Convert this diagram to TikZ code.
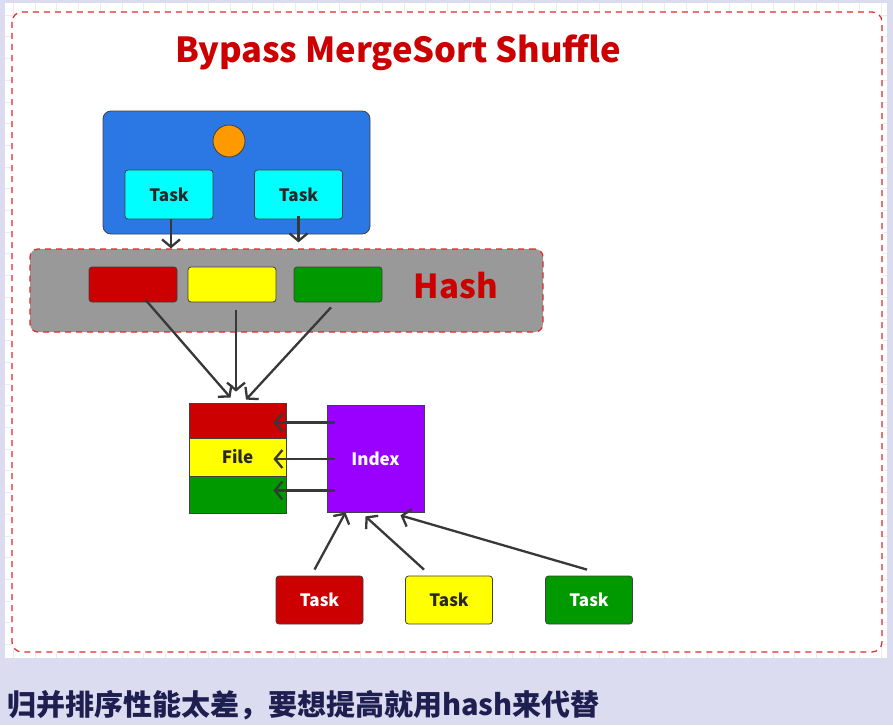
\documentclass[tikz,border=0pt]{standalone}
\usepackage{fontspec}
\setmainfont{Noto Sans CJK SC}
\usetikzlibrary{arrows.meta, calc}

\definecolor{pagebg}{RGB}{220,220,240}
\definecolor{gridgray}{RGB}{236,236,240}
\definecolor{dashred}{RGB}{224,40,40}
\definecolor{titlered}{RGB}{204,0,0}
\definecolor{execblue}{RGB}{43,120,228}
\definecolor{dotorange}{RGB}{255,153,0}
\definecolor{taskcyan}{RGB}{0,255,255}
\definecolor{hashgray}{RGB}{153,153,153}
\definecolor{slotred}{RGB}{204,0,0}
\definecolor{slotyellow}{RGB}{255,255,0}
\definecolor{slotgreen}{RGB}{0,153,0}
\definecolor{indexpurple}{RGB}{153,0,255}
\definecolor{edgegray}{RGB}{64,64,64}
\definecolor{arrowgray}{RGB}{56,56,56}
\definecolor{textdark}{RGB}{40,40,40}
\definecolor{notenavy}{RGB}{30,30,80}

\begin{document}
\begin{tikzpicture}[x=1pt, y=-1pt, >={Straight Barb[length=7.5pt,width=18pt]}]

    % Define styles
    \tikzset{
        frame/.style={draw=dashred, line width=1.2pt, dash pattern=on 6pt off 5pt, rounded corners=10pt},
        box/.style={draw=edgegray, line width=0.8pt, rounded corners=3pt, inner sep=0pt, font=\fontsize{17}{20}\selectfont\bfseries},
        taskbox/.style={box, minimum width=88pt, minimum height=49pt},
        slot/.style={box, minimum width=88pt, minimum height=35pt},
        layer/.style={draw=edgegray, line width=0.8pt, minimum width=97pt, minimum height=36pt, inner sep=0pt, font=\fontsize{17}{20}\selectfont\bfseries},
        link/.style={->, draw=arrowgray, line width=2.3pt},
        bigtext/.style={font=\fontsize{34.5}{38}\selectfont\bfseries, text=titlered},
    }

    % 1. Page, grid and frame
    \fill[pagebg] (0,0) rectangle (893,725);
    \fill[white] (5,3) rectangle (887,658);
    \foreach \gx in {13.3,35,...,887}
        \draw[gridgray, line width=0.6pt] (\gx,3) -- (\gx,658);
    \foreach \gy in {15,36.7,...,658}
        \draw[gridgray, line width=0.6pt] (5,\gy) -- (887,\gy);
    \filldraw[frame, fill=white] (12,12) rectangle (882,652);

    % 2. Title
    \node[bigtext] (title) at (398,53) {Bypass MergeSort Shuffle};

    % 3. Executor with its tasks
    \node[box, fill=execblue, rounded corners=8pt, minimum width=267pt, minimum height=123pt] (exec) at (236.5,172.5) {};
    \node[circle, draw=edgegray, line width=0.8pt, fill=dotorange, minimum size=32pt, inner sep=0pt] (core) at (229,141) {};
    \node[taskbox, fill=taskcyan, text=textdark] (mt1) at (169,194.5) {Task};
    \node[taskbox, fill=taskcyan, text=textdark] (mt2) at (298.5,194.5) {Task};

    % 4. Hash buckets
    \node[box, draw=dashred, dash pattern=on 6pt off 5pt, line width=1.2pt, fill=hashgray, rounded corners=8pt, minimum width=513pt, minimum height=83pt] (hashbar) at (286.5,290.5) {};
    \node[slot, fill=slotred] (hr) at (133,284.5) {};
    \node[slot, fill=slotyellow] (hy) at (232,284.5) {};
    \node[slot, fill=slotgreen] (hg) at (338,284.5) {};
    \node[bigtext, font=\fontsize{33}{36}\selectfont\bfseries] (hashlabel) at (456,286) {Hash};

    \draw[link] ([xshift=2pt]mt1.south) -- ([xshift=2pt]mt1.south |- hashbar.north);
    \draw[link] ([yshift=3pt]mt2.south) -- ([yshift=6pt]mt2.south |- hashbar.north);

    % 5. File and Index
    \node[layer, fill=slotred, minimum height=35pt] (fr) at (237.5,420.5) {};
    \node[layer, fill=slotyellow, minimum height=38pt, text=textdark] (fy) at (237.5,457) {File};
    \node[layer, fill=slotgreen, minimum height=37pt] (fg) at (237.5,494.5) {};
    \node[box, rounded corners=0pt, fill=indexpurple, text=white, minimum width=97pt, minimum height=107pt] (ix) at (375.5,458.5) {Index};

    % buckets merged into one file
    \draw[link] ($(hr.south)+(13,-2)$) -- ($(fr.north)+(-7,-5)$);
    \draw[link] ($(hy.south)+(4,8)$) -- ($(fr.north)+(-1.5,-11)$);
    \draw[link] ($(hg.south)+(-7,5)$) -- ($(fr.north)+(8.5,-3)$);

    % index points into the file
    \draw[link] ($(ix.west |- fr.center)+(8,2)$) -- ($(fr.east)+(-13,2)$);
    \draw[link] ($(ix.west |- fy.center)+(8,2)$) -- ($(fy.east)+(-13,2)$);
    \draw[link] ($(ix.west |- fg.center)+(8,-4)$) -- ($(fg.east)+(-13,-4)$);

    % 6. Reduce tasks
    \node[taskbox, fill=slotred, text=white, minimum width=87pt, minimum height=48pt] (bt1) at (319.5,600) {Task};
    \node[taskbox, fill=slotyellow, text=textdark, minimum width=87pt, minimum height=48pt] (bt2) at (449,600) {Task};
    \node[taskbox, fill=slotgreen, text=white, minimum width=87pt, minimum height=48pt] (bt3) at (589,600) {Task};

    \draw[link] ($(bt1.north)+(-5,-6)$) -- ($(ix.south)+(-30,0)$);
    \draw[link] ($(bt2.north)+(-25,-6)$) -- ($(ix.south)+(-10,4)$);
    \draw[link] ($(bt3.north)+(-2,-6)$) -- ($(ix.south)+(25,3)$);

    % 7. Note below
    \node[anchor=west, inner sep=0pt, font=\fontsize{29}{32}\selectfont\bfseries, text=notenavy] (note) at (7,705) {归并排序性能太差，要想提高就用hash来代替};

\end{tikzpicture}
\end{document}
